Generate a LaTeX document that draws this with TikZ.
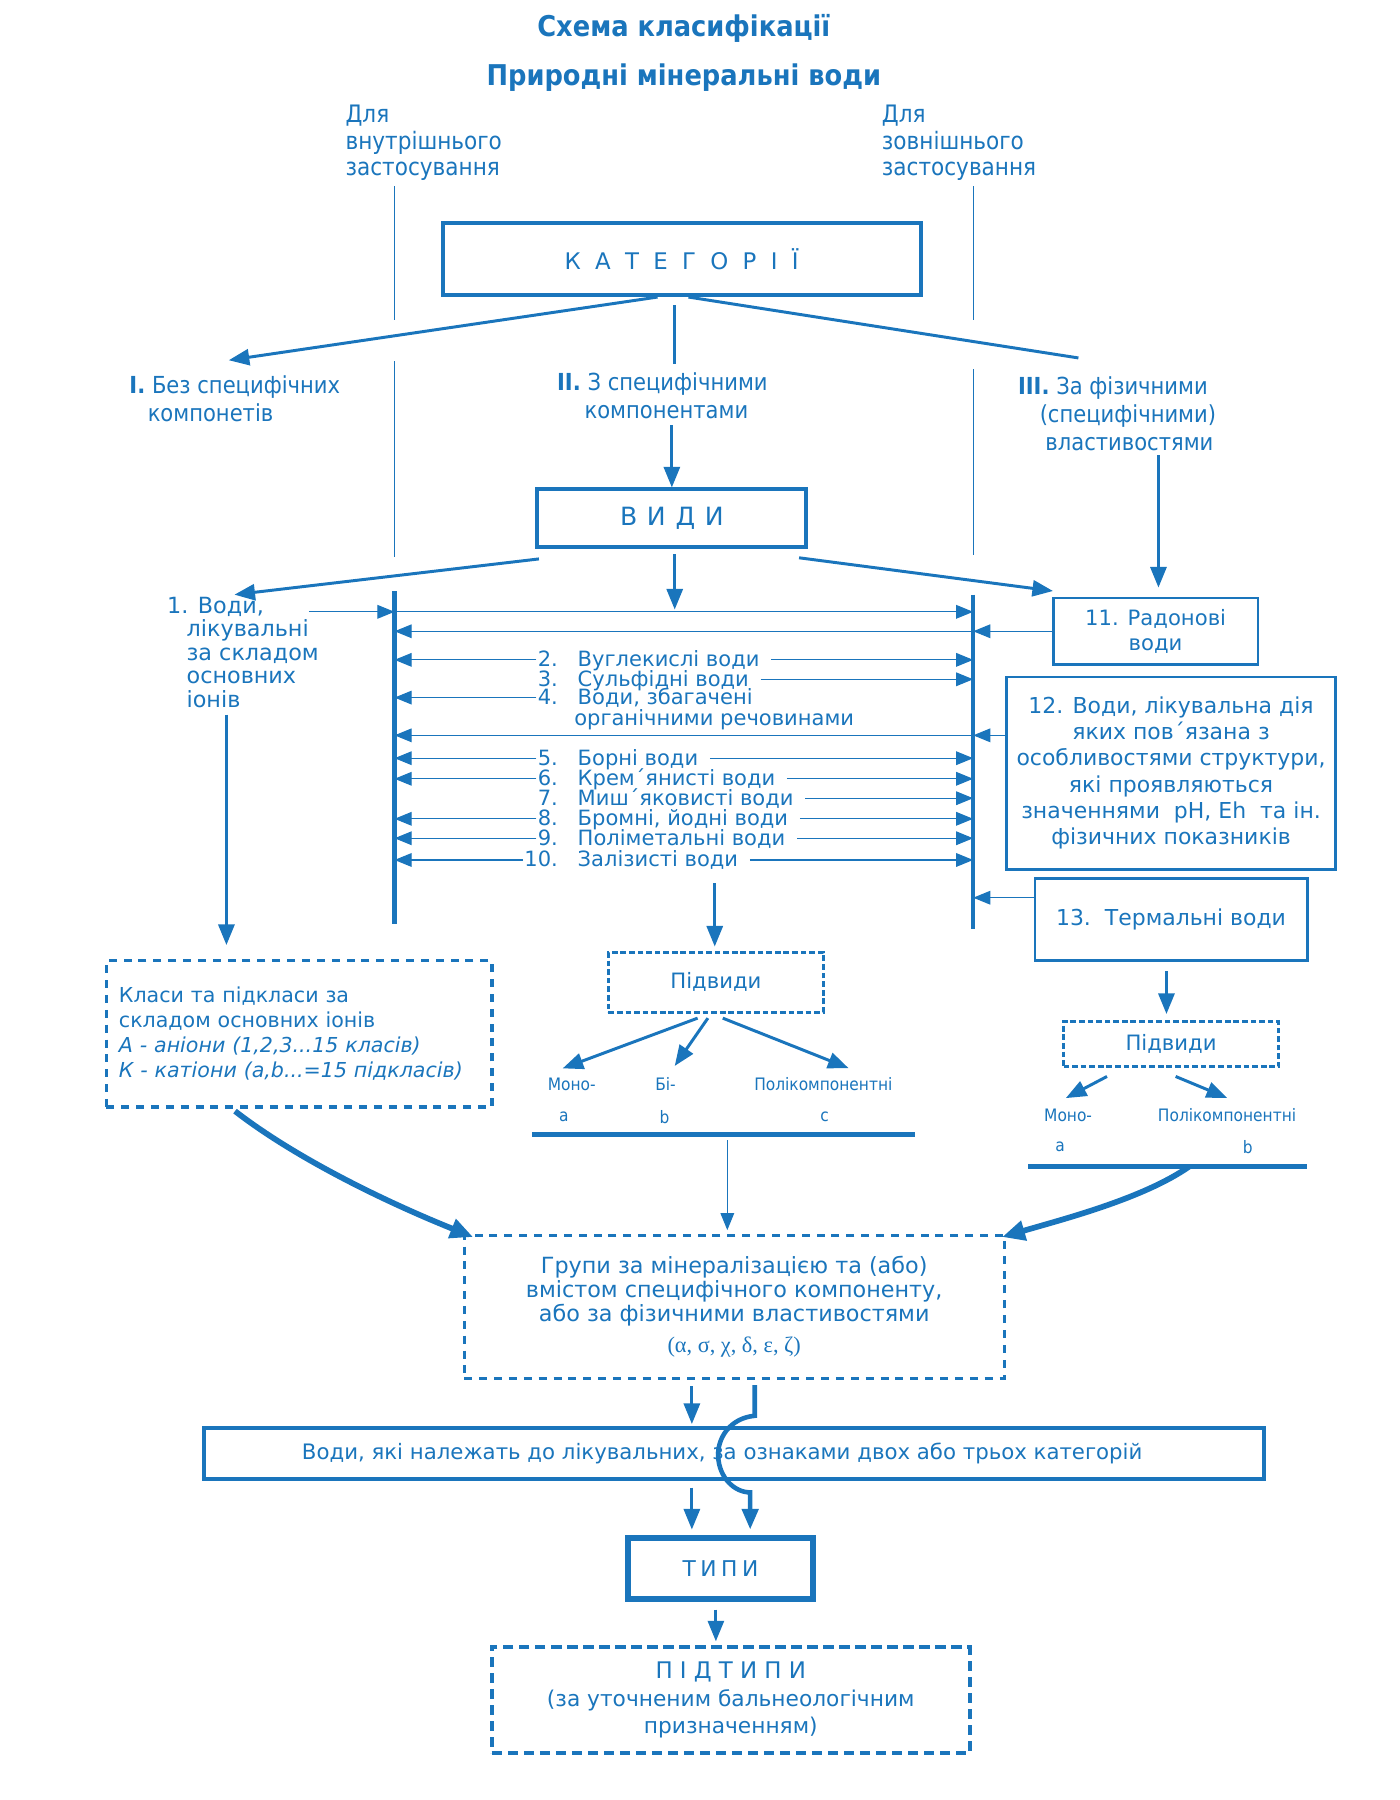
\documentclass[tikz,border=0pt]{standalone}
\usepackage{fontspec}
\setmainfont{DejaVu Sans}
\newfontfamily\condfont{DejaVu Sans Condensed}
\newfontfamily\greekfont{Liberation Serif}
\usetikzlibrary{arrows.meta, positioning}
\definecolor{MinBlue}{HTML}{1A75BC}

\newcommand{\headfont}{\condfont\bfseries\fontsize{25}{28}\selectfont}
\newcommand{\usagefont}{\condfont\fontsize{21}{23}\selectfont}
\newcommand{\notefont}{\condfont\fontsize{20.5}{24.5}\selectfont}
\newcommand{\bodyfont}{\fontsize{19.5}{20.5}\selectfont}
\newcommand{\itemfont}{\fontsize{18.4}{17}\selectfont}
\newcommand{\boxfont}{\fontsize{19.2}{23}\selectfont}
\newcommand{\classfont}{\fontsize{18.5}{22}\selectfont}
\newcommand{\smallfont}{\condfont\fontsize{15}{18}\selectfont}
\newcommand{\groupfont}{\fontsize{19.5}{21}\selectfont}
\newcommand{\longfont}{\fontsize{18.6}{22}\selectfont}
\newcommand{\capsfont}{\fontsize{20}{24}\selectfont}

\tikzset{
  lbl/.style={text=MinBlue, inner sep=0pt},
  bigbox/.style={lbl, draw=MinBlue, line width=3.5pt},
  framebox/.style={lbl, draw=MinBlue, line width=2.4pt, align=center},
  dashbox/.style={lbl, draw=MinBlue, line width=3.2pt, dash pattern=on 7pt off 6pt},
  subbox/.style={lbl, draw=MinBlue, line width=2.6pt, dash pattern=on 5pt off 2.5pt},
  item/.style={lbl, font=\itemfont, text height=12pt, text depth=0pt},
  arr/.style={draw=MinBlue, line width=2.6pt, -{Triangle[length=18pt,width=14pt]}},
  thinarr/.style={draw=MinBlue, line width=1pt, -{Triangle[length=15pt,width=12pt]}},
  stem/.style={draw=MinBlue, line width=2.6pt},
  bar/.style={draw=MinBlue, line width=3.6pt},
  guide/.style={draw=MinBlue, line width=0.9pt},
  sweep/.style={draw=MinBlue, line width=5pt, -{Triangle[length=20pt,width=17pt]}},
}

\begin{document}
\begin{tikzpicture}[x=1pt, y=-1pt]
\useasboundingbox (0,0) rectangle (1224,1574);

% Heading
\node[lbl, font=\headfont] (title) at (598,25) {Схема класифікації};
\node[lbl, font=\headfont] (subtitle) at (598,68) {Природні мінеральні води};

% Use of the waters
\node[lbl, font=\usagefont, align=left, anchor=north west] (inner) at (302,92) {Для\\внутрішнього\\застосування};
\node[lbl, font=\usagefont, align=left, anchor=north west] (outer) at (771,92) {Для\\зовнішнього\\застосування};
\draw[guide] (345,163) -- (345,280) (345,316) -- (345,487);
\draw[guide] (851,163) -- (851,280) (851,323) -- (851,485);

% Categories
\node[bigbox, minimum width=418pt, minimum height=63pt, font={\capsfont\spaceskip=12.5pt\relax}] (cat) at (596,226.5) {К А Т Е Г О Р І Ї};
\node[lbl, font=\notefont, align=left, anchor=north west] (catI) at (113,328) {\textbf{I.} Без специфічних\\\hspace*{16pt}компонетів};
\node[lbl, font=\notefont, align=left, anchor=north west] (catII) at (487,326) {\textbf{II.} З специфічними\\\hspace*{24pt}компонентами};
\node[lbl, font=\notefont, align=left, anchor=north west] (catIII) at (890,329) {\textbf{III.} За фізичними\\\hspace*{19pt}(специфічними)\\\hspace*{24pt}властивостями};
\coordinate (tipI) at (200,315);
\coordinate (stemII) at (590,318);
\coordinate (endIII) at (943,313);
\draw[arr] ([xshift=-21pt]cat.south) -- (tipI);
\draw[stem] ([xshift=-6pt,yshift=-7pt]cat.south) -- (stemII);
\draw[stem] ([xshift=6pt]cat.south) -- (endIII);

% Kinds
\node[bigbox, minimum width=235pt, minimum height=50pt, font={\fontsize{22}{24}\selectfont\spaceskip=8.5pt\relax}] (vydy) at (587.5,453) {В И Д И};
\node[framebox, minimum width=179pt, minimum height=58pt, font=\classfont] (r11) at (1010.5,552) {11. Радонові\\води};
\node[framebox, minimum width=288pt, minimum height=168pt, font=\boxfont] (r12) at (1024,676) {12. Води, лікувальна дія\\яких пов´язана з\\особливостями структури,\\які проявляються\\значеннями\ \ pH, Eh\ \ та ін.\\фізичних показників};
\node[framebox, minimum width=238pt, minimum height=72pt, font=\boxfont] (r13) at (1024,804) {13.\ \ Термальні води};
\coordinate (colIII) at (1013,0);
\draw[arr, shorten <=5pt] (catII.south -| vydy.north) -- (vydy.north);
\draw[arr, shorten <=4pt, shorten >=8pt] (catIII.south -| colIII) -- (r11.north -| colIII);

\node[lbl, font=\bodyfont, align=left, anchor=north west] (w1) at (146,522) {1. Води,\\\hspace*{17pt}лікувальні\\\hspace*{17pt}за складом\\\hspace*{17pt}основних\\\hspace*{17pt}іонів};
\coordinate (tip1) at (205,520);
\coordinate (hub) at (590,533);
\draw[arr] ([xshift=3pt,yshift=-9pt]vydy.south west) -- (tip1);
\draw[arr] ([xshift=-8pt,yshift=-8pt]vydy.south east) -- ([xshift=1pt,yshift=5pt]r11.north west);
\draw[arr, shorten <=5pt] (vydy.south -| hub) -- (hub);

% Bars
\coordinate (LT) at (345,517);
\coordinate (LB) at (345,808);
\coordinate (RT) at (851,520);
\coordinate (RB) at (851,812);
\draw[bar] (LT) -- (LB);
\draw[bar] (RT) -- (RB);

% Rows between the bars
\coordinate (row0) at (270,535);
\coordinate (row12) at (0,643);
\coordinate (row13) at (0,785);
\draw[thinarr] (row0) -- (row0 -| LT);
\draw[thinarr] (row0 -| LT) -- (row0 -| RT);
\draw[thinarr] (r11.west) -- (r11.west -| RT);
\draw[thinarr] (r11.west -| RT) -- (r11.west -| LT);
\draw[thinarr] (r12.west |- row12) -- (row12 -| RT);
\draw[thinarr] (row12 -| RT) -- (row12 -| LT);
\draw[thinarr] (r13.west |- row13) -- (row13 -| RT);

\foreach \nr/\txt/\y/\lft/\rgt in {2/Вуглекислі води/577/1/1, 3/Сульфідні води/594/0/1, 4/{Води, збагачені}/610/1/0,
    5/Борні води/663/1/1, 6/Крем´янисті води/681/1/1, 7/Миш´яковисті води/698/0/1,
    8/{Бромні, йодні води}/716/1/1, 9/Поліметальні води/733/1/1, 10/Залізисті води/752/1/1} {
  \node[item, anchor=east] (n\nr) at (488,\y) {\nr.};
  \node[item, anchor=west] (t\nr) at (505,\y) {\txt};
  \ifnum\lft=1 \draw[thinarr] ([xshift=-1pt]n\nr.west) -- (n\nr.west -| LT); \fi
  \ifnum\rgt=1 \draw[thinarr] ([xshift=10pt]t\nr.east) -- (t\nr.east -| RT); \fi
}
\node[item, anchor=west] (t4b) at (502,628) {органічними речовинами};

% Classes
\node[dashbox, minimum width=337pt, minimum height=128pt, text width=315pt, align=left, font={\fontsize{18}{22}\selectfont}] (classes) at (261.5,904) {Класи та підкласи за\\складом основних іонів\\\textit{А - аніони (1,2,3...15 класів)}\\\textit{К - катіони (a,b...=15 підкласів)}};
\coordinate (col1) at (198,0);
\draw[arr, shorten <=6pt, shorten >=12pt] (w1.south -| col1) -- (classes.north -| col1);

% Subkinds, middle
\node[subbox, minimum width=188pt, minimum height=52pt, font=\classfont] (sub1) at (626,859) {Підвиди};
\coordinate (col2) at (625,0);
\draw[arr, shorten <=14pt, shorten >=4pt] (t10.south -| col2) -- (sub1.north -| col2);
\node[lbl, font=\smallfont] (mono1) at (500,948) {Моно-};
\node[lbl, font=\smallfont] (bi1) at (582,948) {Бі-};
\node[lbl, font=\smallfont] (poly1) at (720,948) {Полікомпонентні};
\node[lbl, font=\smallfont] (la1) at (493,977) {a};
\node[lbl, font=\smallfont] (lb1) at (581,977) {b};
\node[lbl, font=\smallfont] (lc1) at (721,977) {c};
\draw[arr] ([xshift=-16pt,yshift=-4pt]sub1.south) -- ([xshift=-8pt,yshift=8pt]mono1.north);
\draw[arr] ([xshift=-7pt,yshift=-4pt]sub1.south) -- ([xshift=8pt,yshift=10pt]bi1.north);
\draw[arr] ([xshift=6pt,yshift=-4pt]sub1.south) -- ([xshift=22pt,yshift=8pt]poly1.north);
\coordinate (ul1) at (465,992);
\coordinate (ur1) at (800,992);
\draw[bar, line width=4pt] (ul1) -- (ur1);

% Subkinds, right
\node[subbox, minimum width=188pt, minimum height=40pt, font=\classfont] (sub2) at (1024,913) {Підвиди};
\coordinate (col4) at (1020,0);
\draw[arr, shorten <=8pt, shorten >=5pt] (r13.south -| col4) -- (sub2.north -| col4);
\node[lbl, font=\smallfont] (mono2) at (934,975) {Моно-};
\node[lbl, font=\smallfont] (poly2) at (1073,975) {Полікомпонентні};
\node[lbl, font=\smallfont] (la2) at (927,1003) {a};
\node[lbl, font=\smallfont] (lb2) at (1091,1003) {b};
\draw[arr] ([xshift=-56pt,yshift=-7pt]sub2.south) -- ([xshift=-2pt,yshift=9pt]mono2.north);
\draw[arr] ([xshift=4pt,yshift=-7pt]sub2.south) -- ([yshift=9pt]poly2.north);
\coordinate (ul2) at (899,1020);
\coordinate (ur2) at (1143,1020);
\draw[bar, line width=4pt] (ul2) -- (ur2);

% Groups
\node[dashbox, line width=2.6pt, minimum width=472pt, minimum height=125pt, align=center, font=\groupfont] (groups) at (642,1142.5) {Групи за мінералізацією та (або)\\вмістом специфічного компоненту,\\або за фізичними властивостями\\[6pt]{\greekfont (α, σ, χ, δ, ε, ζ)}};
\coordinate (col3) at (636,0);
\coordinate (out2) at (1040,1020);
\draw[thinarr, shorten <=5pt, shorten >=3pt] (ul1 -| col3) -- (groups.north -| col3);
\draw[sweep] ([xshift=-56pt,yshift=-2pt]classes.south) .. controls (255,1010) and (330,1048) .. ([xshift=9pt,yshift=-3pt]groups.north west);
\draw[sweep] (out2) .. controls (1000,1048) and (930,1066) .. ([xshift=-3pt,yshift=-3pt]groups.north east);

% Waters of two or three categories
\node[bigbox, minimum width=927pt, minimum height=44pt, font=\longfont] (both) at (641.5,1271) {Води, які належать до лікувальних, за ознаками двох або трьох категорій\hspace*{20pt}};
\node[bigbox, line width=5pt, minimum width=162pt, minimum height=53pt, font={\fontsize{19}{24}\selectfont\spaceskip=4pt\relax}] (tipy) at (630,1371.5) {Т И П И};
\coordinate (col5) at (605,0);
\coordinate (col6) at (660,0);
\coordinate (col7) at (656,0);
\coordinate (col8) at (626,0);
\draw[arr, shorten <=6pt, shorten >=2pt] (groups.south -| col5) -- (both.north -| col5);
\draw[arr, shorten <=6pt, shorten >=5pt] (both.south -| col5) -- (tipy.north -| col5);
\draw[arr, line width=4pt, shorten >=5pt] ([yshift=-5pt]groups.south -| col6) -- (660,1238)
  .. controls (638,1240) and (627,1258) .. (628,1274)
  .. controls (629,1292) and (642,1305) .. (656,1305) -- (tipy.north -| col7);

% Subtypes
\node[dashbox, line width=3.5pt, dash pattern=on 9pt off 5pt, minimum width=418pt, minimum height=93pt, align=center, font={\fontsize{19}{24}\selectfont}] (subtypes) at (639,1486.5) {{\capsfont\spaceskip=6.3pt\relax П І Д Т И П И}\\(за уточненим бальнеологічним\\призначенням)};
\draw[arr, shorten <=7pt, shorten >=3pt] (tipy.south -| col8) -- (subtypes.north -| col8);
\end{tikzpicture}
\end{document}
